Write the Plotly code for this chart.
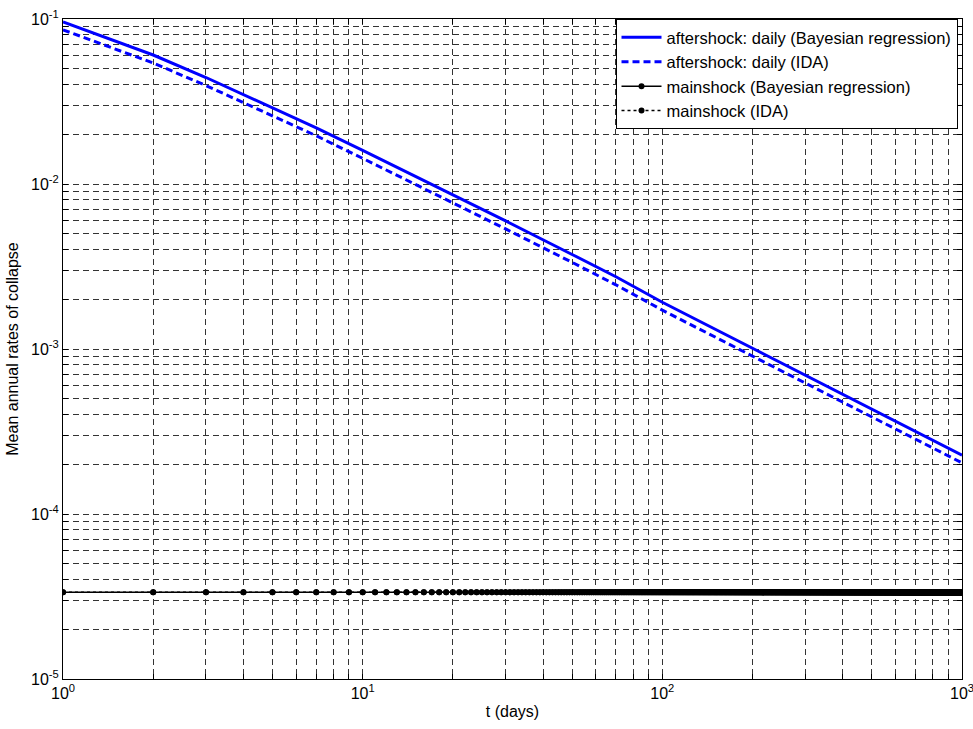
import plotly.graph_objects as go

# ---- data ----
t_after = [1, 2, 3, 5, 7, 10, 20, 30, 50, 70, 100, 200, 300, 500, 700, 1000]
rate_after_bayes = [0.0960, 0.0605, 0.0442, 0.0291, 0.0219, 0.0160, 0.00863, 0.00597,
                    0.00374, 0.00274, 0.00192, 0.00101, 0.000695, 0.000433, 0.000317, 0.000227]
rate_after_ida = [0.0860, 0.0541, 0.0395, 0.0260, 0.0196, 0.0143, 0.00772, 0.00534,
                  0.00335, 0.00245, 0.00172, 0.000904, 0.000622, 0.000388, 0.000284, 0.000204]

t_main = list(range(1, 1001))
main_bayes_value = 3.35e-5
main_ida_value = 3.35e-5
rate_main_bayes = [main_bayes_value] * len(t_main)
rate_main_ida = [main_ida_value] * len(t_main)

x_decades = [1, 10, 100, 1000]
x_decade_labels = ["10<sup>0</sup>", "10<sup>1</sup>", "10<sup>2</sup>", "10<sup>3</sup>"]
y_decades = [1e-5, 1e-4, 1e-3, 1e-2, 1e-1]
y_decade_labels = ["10<sup>-5</sup>", "10<sup>-4</sup>", "10<sup>-3</sup>", "10<sup>-2</sup>", "10<sup>-1</sup>"]

def grid_ticks(decades, labels):
    vals, texts = [], []
    for i, d in enumerate(decades):
        vals.append(d)
        texts.append(labels[i])
        if i < len(decades) - 1:
            for k in range(2, 10):
                vals.append(d * k)
                texts.append("")
    return vals, texts

xv, xt = grid_ticks(x_decades, x_decade_labels)
yv, yt = grid_ticks(y_decades, y_decade_labels)

fig = go.Figure()
fig.add_trace(go.Scatter(x=t_after, y=rate_after_bayes, mode="lines",
                         line=dict(color="#0000ff", width=3),
                         name="aftershock: daily (Bayesian regression)"))
fig.add_trace(go.Scatter(x=t_after, y=rate_after_ida, mode="lines",
                         line=dict(color="#0000ff", width=3, dash="7px,4px"),
                         name="aftershock: daily (IDA)"))
fig.add_trace(go.Scatter(x=t_main, y=rate_main_bayes, mode="lines+markers",
                         line=dict(color="black", width=1.5),
                         marker=dict(color="black", size=6),
                         name="mainshock (Bayesian regression)"))
fig.add_trace(go.Scatter(x=t_main, y=rate_main_ida, mode="lines+markers",
                         line=dict(color="black", width=1.5, dash="dot"),
                         marker=dict(color="black", size=6),
                         name="mainshock (IDA)"))

axis_common = dict(
    showline=True, linecolor="black", linewidth=1, mirror="allticks",
    ticks="inside", ticklen=5, tickcolor="black",
    showgrid=True, gridcolor="#333333", griddash="6px,4px", gridwidth=1,
    zeroline=False, tickfont=dict(size=16, color="black"), automargin=False,
    ticklabeloverflow="allow",
)

fig.update_xaxes(type="log", range=[0, 3], tickmode="array", tickvals=xv, ticktext=xt,
                 title=dict(text="t (days)", font=dict(size=16, color="black"), standoff=4),
                 **axis_common)
fig.update_yaxes(type="log", range=[-5, -1], tickmode="array", tickvals=yv, ticktext=yt,
                 title=dict(text="Mean annual rates of collapse", font=dict(size=16, color="black"), standoff=8),
                 **axis_common)

fig.update_layout(
    width=973, height=729,
    margin=dict(l=63, r=11, t=19, b=50),
    paper_bgcolor="white", plot_bgcolor="white",
    font=dict(family="Liberation Sans, Arial, sans-serif", size=16, color="black"),
    legend=dict(x=0.995, y=1, xanchor="right", yanchor="top",
                bgcolor="white", bordercolor="black", borderwidth=1,
                font=dict(size=16.5), tracegroupgap=0, itemwidth=40),
    showlegend=True,
)

fig.write_html("out.html")
